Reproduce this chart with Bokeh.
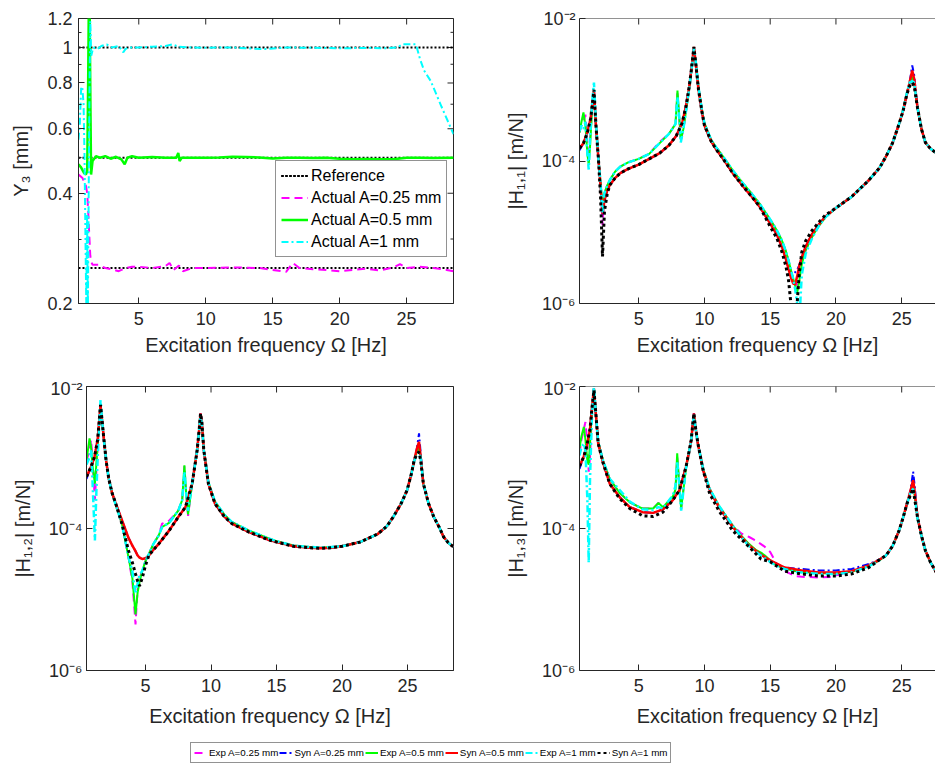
from bokeh.plotting import figure
from bokeh.models import (Range1d, FixedTicker, CustomJSTickFormatter, Legend, LegendItem, Span)
from bokeh.layouts import column, row
from bokeh.embed import file_html
from bokeh.resources import INLINE

# ---------------------------------------------------------------- data
# Top-left: measured amplitude Y3 [mm] versus excitation frequency [Hz]
ref_f = [0.5, 28.5]
ref_levels = [0.25, 0.5, 1.0]

tl_f_m = [0.5, 0.8, 1.05, 1.15, 1.22, 1.3, 1.38, 1.45, 1.55, 2.0, 2.5, 3.0, 3.5, 4.0, 4.5,
          5.0, 6.0, 7.0, 7.3, 7.6, 8.0, 8.3, 9.0, 10.0, 12.0, 14.0, 15.0, 16.0, 16.5, 17.0,
          18.0, 19.0, 20.0, 21.0, 22.0, 23.0, 24.0, 24.5, 25.0, 26.0, 27.0, 28.0, 28.5]
tl_y_m = [0.45, 0.44, 0.42, 0.4, 0.36, 0.31, 0.27, 0.26, 0.255, 0.255, 0.25, 0.248, 0.245, 0.25, 0.252,
          0.252, 0.25, 0.253, 0.258, 0.247, 0.254, 0.245, 0.25, 0.25, 0.251, 0.25, 0.247, 0.244, 0.258, 0.25,
          0.248, 0.247, 0.245, 0.247, 0.249, 0.246, 0.251, 0.256, 0.25, 0.252, 0.25, 0.247, 0.245]

tl_f_g = [0.5, 0.7, 0.9, 1.05, 1.15, 1.22, 1.27, 1.33, 1.39, 1.44, 1.55, 1.8, 2.1, 2.5, 2.9,
          3.3, 3.7, 3.95, 4.15, 4.5, 5.0, 6.0, 7.0, 7.8, 7.95, 8.05, 8.2, 9.0, 10.0, 11.0,
          12.0, 13.0, 14.0, 15.0, 16.0, 17.0, 18.0, 19.0, 20.0, 21.0, 22.0, 23.0, 24.0, 25.0, 26.0,
          27.0, 28.5]
tl_y_g = [0.48, 0.47, 0.455, 0.45, 0.46, 0.8, 1.3, 1.3, 0.7, 0.45, 0.49, 0.505, 0.5, 0.505, 0.497,
          0.503, 0.495, 0.48, 0.5, 0.505, 0.5, 0.502, 0.5, 0.5, 0.515, 0.49, 0.5, 0.5, 0.5, 0.501,
          0.503, 0.502, 0.501, 0.498, 0.5, 0.5, 0.499, 0.5, 0.497, 0.495, 0.496, 0.495, 0.495, 0.5, 0.5,
          0.499, 0.5]

tl_f_c = [0.5, 0.6, 0.7, 0.78, 0.88, 0.95, 1.02, 1.08, 1.14, 1.2, 1.26, 1.32, 1.38, 1.45, 1.6,
          1.9, 2.2, 2.6, 3.0, 3.5, 3.85, 4.0, 4.2, 5.0, 6.0, 7.0, 7.5, 8.0, 9.0, 10.0,
          11.0, 12.0, 13.0, 14.5, 16.0, 18.0, 20.0, 22.0, 23.5, 24.3, 24.7, 25.2, 25.7, 26.0, 26.3,
          26.8, 27.6, 28.5]
tl_y_c = [0.56, 0.62, 0.78, 0.78, 0.7, 0.5, 0.3, 0.2, 0.35, 0.19, 0.4, 0.75, 1.18, 0.95, 1.0,
          0.99, 1.01, 1.02, 1.0, 1.01, 0.97, 0.99, 1.0, 1.0, 1.005, 1.01, 1.02, 1.005, 1.0, 0.998,
          1.0, 1.0, 0.995, 0.99, 1.0, 0.998, 0.995, 0.997, 0.995, 1.0, 1.02, 1.02, 1.02, 0.93, 0.866,
          0.81, 0.69, 0.58]

# Top-right: |H11| [m/N]
tr_f_syn = [0.5, 0.8, 1.1, 1.35, 1.6, 1.75, 1.95, 2.1, 2.25, 2.4,
            2.6, 2.8, 3.2, 3.6, 4.2, 5.0, 5.8, 6.6, 7.3, 7.85,
            8.3, 8.6, 8.85, 9.05, 9.2, 9.35, 9.55, 9.8, 10.0, 10.5,
            10.9, 11.5, 12.15, 13.0, 13.6, 14.2, 15.0, 15.5, 15.9, 16.2,
            16.4, 16.6, 16.75, 16.9, 17.05, 17.2, 17.4, 17.7, 18.2, 18.7,
            19.2, 20.0, 21.2, 22.5, 23.3, 23.8, 24.3, 24.8, 25.1, 25.4,
            25.6, 25.8, 25.95, 26.2, 26.5, 26.8, 27.2, 27.7, 28.0, 28.5]
tr_syn_025 = [1.41e-4, 1.78e-4, 2.51e-4, 3.98e-4, 9.55e-4, 3.16e-4, 1.0e-4, 4.47e-5, 2.0e-5, 2.82e-5,
              3.8e-5, 4.57e-5, 5.75e-5, 6.76e-5, 7.76e-5, 8.91e-5, 1.07e-4, 1.29e-4, 1.66e-4, 2.24e-4,
              3.39e-4, 5.89e-4, 1.12e-3, 2.24e-3, 3.98e-3, 2.24e-3, 1.0e-3, 5.01e-4, 3.16e-4, 1.91e-4,
              1.45e-4, 1.02e-4, 6.76e-5, 4.27e-5, 3.16e-5, 2.29e-5, 1.32e-5, 9.33e-6, 6.17e-6, 4.17e-6,
              3.02e-6, 2.6e-6, 2.6e-6, 2.75e-6, 3.0e-6, 3.4e-6, 4.47e-6, 6.31e-6, 9.55e-6, 1.29e-5,
              1.66e-5, 2.19e-5, 3.16e-5, 5.37e-5, 7.94e-5, 1.15e-4, 1.78e-4, 3.31e-4, 5.01e-4, 8.71e-4,
              1.26e-3, 2.2e-3, 1.6e-3, 5.62e-4, 2.82e-4, 1.82e-4, 1.48e-4, 1.26e-4, 1.15e-4, 1.0e-4]
tr_syn_05 = [1.51e-4, 1.78e-4, 2.51e-4, 3.98e-4, 9.55e-4, 3.16e-4, 1.0e-4, 4.47e-5, 1.82e-5, 2.82e-5,
             3.8e-5, 4.57e-5, 5.75e-5, 6.76e-5, 7.76e-5, 8.91e-5, 1.07e-4, 1.29e-4, 1.66e-4, 2.24e-4,
             3.39e-4, 5.89e-4, 1.12e-3, 2.24e-3, 3.98e-3, 2.24e-3, 1.0e-3, 5.01e-4, 3.16e-4, 1.91e-4,
             1.45e-4, 1.02e-4, 6.76e-5, 4.27e-5, 3.16e-5, 2.29e-5, 1.32e-5, 9.33e-6, 6.17e-6, 4.17e-6,
             3.02e-6, 2.24e-6, 1.91e-6, 1.86e-6, 2.4e-6, 3.31e-6, 4.47e-6, 6.31e-6, 9.55e-6, 1.29e-5,
             1.66e-5, 2.19e-5, 3.16e-5, 5.37e-5, 7.94e-5, 1.15e-4, 1.78e-4, 3.31e-4, 5.01e-4, 8.71e-4,
             1.26e-3, 1.86e-3, 1.41e-3, 5.62e-4, 2.82e-4, 1.82e-4, 1.48e-4, 1.26e-4, 1.15e-4, 1.0e-4]
tr_syn_1 = [1.51e-4, 1.78e-4, 2.51e-4, 3.98e-4, 1.0e-3, 3.16e-4, 1.0e-4, 3.16e-5, 4.57e-6, 2.0e-5,
            3.39e-5, 4.57e-5, 5.75e-5, 6.76e-5, 7.76e-5, 8.91e-5, 1.07e-4, 1.29e-4, 1.66e-4, 2.24e-4,
            3.39e-4, 5.89e-4, 1.12e-3, 2.24e-3, 3.98e-3, 2.24e-3, 1.0e-3, 5.01e-4, 3.16e-4, 1.91e-4,
            1.45e-4, 1.02e-4, 6.76e-5, 4.27e-5, 3.16e-5, 2.29e-5, 1.2e-5, 8.32e-6, 5.25e-6, 3.31e-6,
            2.09e-6, 8.9e-7, 4.0e-7, 5.0e-7, 1.0e-6, 2.51e-6, 5.25e-6, 7.59e-6, 1.07e-5, 1.38e-5,
            1.74e-5, 2.19e-5, 3.16e-5, 5.37e-5, 7.94e-5, 1.15e-4, 1.78e-4, 3.31e-4, 5.01e-4, 8.71e-4,
            1.12e-3, 1.26e-3, 1.12e-3, 5.62e-4, 2.82e-4, 1.82e-4, 1.48e-4, 1.26e-4, 1.15e-4, 1.0e-4]

tr_f_exp = [0.5, 0.65, 0.8, 0.95, 1.1, 1.2, 1.3, 1.45, 1.6, 1.75,
            1.95, 2.1, 2.25, 2.4, 2.6, 2.8, 3.2, 3.6, 4.2, 5.0,
            5.8, 6.6, 7.3, 7.8, 7.95, 8.05, 8.2, 8.4, 8.6, 8.85,
            9.05, 9.2, 9.35, 9.55, 9.8, 10.0, 10.5, 10.9, 11.5, 12.15,
            13.0, 13.6, 14.2, 15.0, 15.5, 15.9, 16.2, 16.4, 16.6, 16.75,
            16.9, 17.05, 17.2, 17.4, 17.7, 18.2, 18.7, 19.2, 20.0, 21.2,
            22.5, 23.3, 23.8, 24.3, 24.8, 25.1, 25.4, 25.6, 25.8, 25.95,
            26.2, 26.5, 26.8, 27.2, 27.7, 28.0, 28.5]
tr_exp_025 = [2.51e-4, 3.16e-4, 3.55e-4, 4.47e-4, 1.78e-4, 1.12e-4, 2.0e-4, 5.01e-4, 1.0e-3, 3.16e-4,
              1.0e-4, 5.01e-5, 1.26e-5, 3.55e-5, 4.47e-5, 5.37e-5, 7.08e-5, 8.32e-5, 9.55e-5, 1.07e-4,
              1.26e-4, 1.86e-4, 2.4e-4, 3.31e-4, 8.91e-4, 5.01e-4, 1.91e-4, 2.82e-4, 5.01e-4, 1.07e-3,
              2.14e-3, 3.8e-3, 2.4e-3, 1.07e-3, 5.37e-4, 3.39e-4, 2.0e-4, 1.55e-4, 1.1e-4, 7.41e-5,
              4.68e-5, 3.47e-5, 2.51e-5, 1.51e-5, 1.07e-5, 7.59e-6, 5.37e-6, 3.98e-6, 2.82e-6, 2.24e-6,
              2.0e-6, 1.78e-6, 2.51e-6, 3.98e-6, 5.62e-6, 8.71e-6, 1.23e-5, 1.62e-5, 2.19e-5, 3.16e-5,
              5.37e-5, 7.94e-5, 1.15e-4, 1.78e-4, 3.31e-4, 5.13e-4, 9.12e-4, 1.26e-3, 1.66e-3, 1.26e-3,
              5.62e-4, 2.82e-4, 1.82e-4, 1.48e-4, 1.26e-4, 1.15e-4, 1.0e-4]
tr_exp_05 = [2.51e-4, 3.55e-4, 4.79e-4, 3.16e-4, 1.26e-4, 8.91e-5, 1.58e-4, 5.01e-4, 9.55e-4, 3.16e-4,
             1.0e-4, 5.01e-5, 2.24e-5, 3.55e-5, 4.47e-5, 5.37e-5, 7.08e-5, 8.32e-5, 9.55e-5, 1.07e-4,
             1.26e-4, 1.78e-4, 2.4e-4, 3.31e-4, 9.77e-4, 5.01e-4, 2.0e-4, 2.82e-4, 5.01e-4, 1.07e-3,
             2.14e-3, 3.8e-3, 2.4e-3, 1.07e-3, 5.37e-4, 3.39e-4, 2.0e-4, 1.55e-4, 1.1e-4, 7.41e-5,
             4.68e-5, 3.47e-5, 2.51e-5, 1.51e-5, 1.07e-5, 7.59e-6, 5.37e-6, 3.98e-6, 2.82e-6, 2.24e-6,
             1.78e-6, 1.41e-6, 2.0e-6, 3.55e-6, 5.62e-6, 8.71e-6, 1.23e-5, 1.62e-5, 2.19e-5, 3.16e-5,
             5.37e-5, 7.94e-5, 1.15e-4, 1.78e-4, 3.31e-4, 5.13e-4, 9.12e-4, 1.26e-3, 1.51e-3, 1.26e-3,
             5.62e-4, 2.82e-4, 1.82e-4, 1.48e-4, 1.26e-4, 1.15e-4, 1.0e-4]
tr_exp_1 = [2.63e-4, 3.16e-4, 2.82e-4, 3.55e-4, 1.26e-4, 7.59e-5, 2.0e-4, 6.31e-4, 1.26e-3, 3.55e-4,
            1.0e-4, 5.01e-5, 1.82e-5, 3.55e-5, 4.47e-5, 5.37e-5, 7.08e-5, 8.32e-5, 9.55e-5, 1.07e-4,
            1.26e-4, 1.78e-4, 2.4e-4, 3.31e-4, 7.94e-4, 5.01e-4, 1.82e-4, 2.82e-4, 5.01e-4, 1.07e-3,
            2.14e-3, 3.8e-3, 2.4e-3, 1.07e-3, 5.37e-4, 3.39e-4, 2.0e-4, 1.55e-4, 1.1e-4, 7.41e-5,
            4.68e-5, 3.47e-5, 2.51e-5, 1.51e-5, 1.07e-5, 7.59e-6, 5.37e-6, 3.98e-6, 2.82e-6, 2.24e-6,
            1.58e-6, 1.0e-6, 5.01e-7, 2.51e-6, 5.01e-6, 8.32e-6, 1.23e-5, 1.62e-5, 2.19e-5, 3.16e-5,
            5.37e-5, 7.94e-5, 1.15e-4, 1.78e-4, 3.31e-4, 5.13e-4, 9.12e-4, 1.26e-3, 1.32e-3, 1.26e-3,
            5.62e-4, 2.82e-4, 1.82e-4, 1.48e-4, 1.26e-4, 1.15e-4, 1.0e-4]

# Bottom-left: |H12| [m/N]
bl_f_syn = [0.5, 0.8, 1.1, 1.35, 1.57, 1.7, 1.83, 2.0, 2.2, 2.45,
            2.7, 3.2, 3.7, 4.0, 4.24, 4.4, 4.55, 4.75, 5.0, 5.26,
            5.6, 6.0, 6.8, 7.5, 8.05, 8.56, 8.94, 9.1, 9.2, 9.3,
            9.45, 9.8, 10.3, 11.0, 11.6, 12.9, 14.4, 15.0, 16.3, 17.5,
            18.35, 19.2, 20.0, 21.4, 22.7, 23.4, 23.9, 24.5, 24.96, 25.3,
            25.5, 25.7, 25.87, 26.0, 26.2, 26.6, 27.0, 27.4, 27.75, 28.1,
            28.5]
bl_syn_025 = [5.01e-4, 7.08e-4, 1.0e-3, 1.78e-3, 5.5e-3, 3.16e-3, 1.78e-3, 8.91e-4, 5.01e-4, 3.16e-4,
              2.34e-4, 1.32e-4, 7.41e-5, 5.75e-5, 4.79e-5, 4.17e-5, 3.89e-5, 3.72e-5, 3.8e-5, 4.17e-5,
              5.01e-5, 6.03e-5, 9.33e-5, 1.45e-4, 2.0e-4, 4.27e-4, 1.26e-3, 2.51e-3, 4.17e-3, 3.16e-3,
              1.26e-3, 4.27e-4, 2.24e-4, 1.48e-4, 1.17e-4, 8.91e-5, 6.92e-5, 6.46e-5, 5.62e-5, 5.37e-5,
              5.25e-5, 5.37e-5, 5.62e-5, 6.46e-5, 8.32e-5, 1.07e-4, 1.45e-4, 2.24e-4, 3.47e-4, 6.03e-4,
              9.12e-4, 1.32e-3, 2.19e-3, 1.12e-3, 4.27e-4, 2.24e-4, 1.45e-4, 1.05e-4, 7.59e-5, 6.31e-5,
              5.5e-5]
bl_syn_05 = [5.37e-4, 7.08e-4, 1.0e-3, 1.78e-3, 5.5e-3, 3.16e-3, 1.78e-3, 8.91e-4, 5.01e-4, 3.16e-4,
             2.34e-4, 1.32e-4, 7.41e-5, 5.75e-5, 4.79e-5, 4.17e-5, 3.89e-5, 3.72e-5, 3.8e-5, 4.17e-5,
             5.01e-5, 6.03e-5, 9.33e-5, 1.45e-4, 2.0e-4, 4.27e-4, 1.26e-3, 2.51e-3, 4.17e-3, 3.16e-3,
             1.26e-3, 4.27e-4, 2.24e-4, 1.48e-4, 1.17e-4, 8.91e-5, 6.92e-5, 6.46e-5, 5.62e-5, 5.37e-5,
             5.25e-5, 5.37e-5, 5.62e-5, 6.46e-5, 8.32e-5, 1.07e-4, 1.45e-4, 2.24e-4, 3.47e-4, 6.03e-4,
             9.12e-4, 1.32e-3, 1.66e-3, 1.0e-3, 4.27e-4, 2.24e-4, 1.45e-4, 1.05e-4, 7.59e-5, 6.31e-5,
             5.5e-5]
bl_syn_1 = [5.37e-4, 7.08e-4, 1.0e-3, 1.78e-3, 5.5e-3, 3.16e-3, 1.78e-3, 8.91e-4, 5.01e-4, 3.16e-4,
            2.34e-4, 1.17e-4, 4.9e-5, 3.31e-5, 2.29e-5, 1.82e-5, 1.55e-5, 2.0e-5, 3.02e-5, 4.17e-5,
            5.01e-5, 6.03e-5, 9.33e-5, 1.45e-4, 2.0e-4, 4.27e-4, 1.26e-3, 2.51e-3, 4.17e-3, 3.16e-3,
            1.26e-3, 4.27e-4, 2.24e-4, 1.48e-4, 1.17e-4, 8.91e-5, 6.92e-5, 6.46e-5, 5.62e-5, 5.37e-5,
            5.25e-5, 5.37e-5, 5.62e-5, 6.46e-5, 8.32e-5, 1.07e-4, 1.45e-4, 2.24e-4, 3.47e-4, 6.03e-4,
            9.12e-4, 1.12e-3, 1.2e-3, 8.91e-4, 4.27e-4, 2.24e-4, 1.45e-4, 1.05e-4, 7.59e-5, 6.31e-5,
            5.5e-5]

bl_f_exp = [0.5, 0.73, 0.85, 0.95, 1.14, 1.25, 1.4, 1.57, 1.7, 1.83,
            2.0, 2.2, 2.45, 2.7, 3.2, 3.7, 4.0, 4.24, 4.4, 4.55,
            4.75, 5.0, 5.26, 5.6, 6.0, 6.27, 6.8, 7.5, 7.8, 7.97,
            8.1, 8.25, 8.56, 8.94, 9.1, 9.2, 9.3, 9.45, 9.8, 10.3,
            11.0, 11.6, 12.9, 14.4, 15.0, 16.3, 17.5, 18.35, 19.2, 20.0,
            21.4, 22.7, 23.4, 23.9, 24.5, 24.96, 25.3, 25.5, 25.7, 25.87,
            26.0, 26.2, 26.6, 27.0, 27.4, 27.75, 28.1, 28.5]
bl_exp_025 = [8.91e-4, 1.26e-3, 1.78e-3, 1.0e-3, 2.51e-4, 6.31e-4, 2.0e-3, 5.01e-3, 3.16e-3, 1.78e-3,
              8.91e-4, 5.01e-4, 3.16e-4, 2.24e-4, 1.17e-4, 3.98e-5, 1.78e-5, 4.47e-6, 1.41e-5, 2.0e-5,
              2.51e-5, 3.47e-5, 4.37e-5, 6.03e-5, 7.94e-5, 1.17e-4, 1.29e-4, 1.78e-4, 2.51e-4, 7.59e-4,
              3.16e-4, 1.51e-4, 4.27e-4, 1.26e-3, 2.51e-3, 3.98e-3, 3.02e-3, 1.26e-3, 4.47e-4, 2.4e-4,
              1.58e-4, 1.23e-4, 9.33e-5, 7.24e-5, 6.61e-5, 5.75e-5, 5.5e-5, 5.37e-5, 5.5e-5, 5.62e-5,
              6.46e-5, 8.32e-5, 1.07e-4, 1.45e-4, 2.24e-4, 3.47e-4, 6.03e-4, 8.91e-4, 1.2e-3, 1.58e-3,
              1.0e-3, 4.27e-4, 2.24e-4, 1.45e-4, 1.05e-4, 7.59e-5, 6.31e-5, 5.5e-5]
bl_exp_05 = [9.12e-4, 1.86e-3, 1.41e-3, 7.94e-4, 4.27e-4, 7.94e-4, 2.0e-3, 5.01e-3, 3.16e-3, 1.78e-3,
             8.91e-4, 5.01e-4, 3.16e-4, 2.24e-4, 1.17e-4, 3.98e-5, 2.0e-5, 6.17e-6, 1.26e-5, 1.78e-5,
             2.51e-5, 3.47e-5, 4.37e-5, 6.03e-5, 7.94e-5, 1.05e-4, 1.2e-4, 1.78e-4, 2.51e-4, 7.76e-4,
             3.16e-4, 1.58e-4, 4.27e-4, 1.26e-3, 2.51e-3, 3.98e-3, 3.02e-3, 1.26e-3, 4.47e-4, 2.4e-4,
             1.58e-4, 1.23e-4, 9.33e-5, 7.24e-5, 6.61e-5, 5.75e-5, 5.5e-5, 5.37e-5, 5.5e-5, 5.62e-5,
             6.46e-5, 8.32e-5, 1.07e-4, 1.45e-4, 2.24e-4, 3.47e-4, 6.03e-4, 8.91e-4, 1.2e-3, 1.41e-3,
             1.0e-3, 4.27e-4, 2.24e-4, 1.45e-4, 1.05e-4, 7.59e-5, 6.31e-5, 5.5e-5]
bl_exp_1 = [7.94e-4, 1.0e-3, 1.26e-3, 5.01e-4, 6.76e-5, 3.16e-4, 1.58e-3, 6.46e-3, 3.16e-3, 1.78e-3,
            8.91e-4, 5.01e-4, 3.16e-4, 2.24e-4, 1.17e-4, 3.98e-5, 2.51e-5, 1.2e-5, 1.66e-5, 2.24e-5,
            2.51e-5, 3.47e-5, 4.37e-5, 6.03e-5, 7.94e-5, 1.05e-4, 1.2e-4, 1.78e-4, 2.51e-4, 6.31e-4,
            3.16e-4, 1.78e-4, 4.27e-4, 1.26e-3, 2.51e-3, 3.98e-3, 3.02e-3, 1.26e-3, 4.47e-4, 2.4e-4,
            1.58e-4, 1.23e-4, 9.33e-5, 7.24e-5, 6.61e-5, 5.75e-5, 5.5e-5, 5.37e-5, 5.5e-5, 5.62e-5,
            6.46e-5, 8.32e-5, 1.07e-4, 1.45e-4, 2.24e-4, 3.47e-4, 6.03e-4, 8.91e-4, 1.12e-3, 1.2e-3,
            1.0e-3, 4.27e-4, 2.24e-4, 1.45e-4, 1.05e-4, 7.59e-5, 6.31e-5, 5.5e-5]

# Bottom-right: |H13| [m/N]
br_f_syn = [0.5, 0.8, 1.04, 1.3, 1.45, 1.6, 1.75, 1.92, 2.3, 2.8,
            3.56, 4.32, 5.3, 6.1, 6.85, 7.6, 8.1, 8.6, 8.85, 9.0,
            9.1, 9.2, 9.3, 9.5, 9.9, 10.4, 11.1, 12.15, 13.4, 14.3,
            15.0, 16.1, 17.4, 18.7, 20.0, 21.2, 22.5, 23.3, 23.8, 24.3,
            24.8, 25.1, 25.4, 25.65, 25.87, 26.0, 26.2, 26.5, 26.8, 27.2,
            27.7, 28.1, 28.5]
br_syn_025 = [6.92e-4, 1.0e-3, 1.41e-3, 2.51e-3, 5.01e-3, 9.33e-3, 3.98e-3, 1.58e-3, 8.32e-4, 4.27e-4,
              2.75e-4, 2.0e-4, 1.7e-4, 1.66e-4, 1.86e-4, 2.51e-4, 3.47e-4, 7.41e-4, 1.26e-3, 1.78e-3,
              2.82e-3, 4.17e-3, 2.82e-3, 1.58e-3, 6.61e-4, 3.47e-4, 2.0e-4, 1.05e-4, 5.75e-5, 4.27e-5,
              3.55e-5, 2.82e-5, 2.69e-5, 2.57e-5, 2.57e-5, 2.69e-5, 3.16e-5, 3.63e-5, 4.17e-5, 5.62e-5,
              9.33e-5, 1.41e-4, 2.24e-4, 3.31e-4, 6.31e-4, 3.8e-4, 1.45e-4, 7.94e-5, 4.9e-5, 3.31e-5,
              2.29e-5, 1.91e-5, 1.66e-5]
br_syn_05 = [7.59e-4, 1.0e-3, 1.41e-3, 2.51e-3, 5.01e-3, 9.33e-3, 3.98e-3, 1.58e-3, 8.32e-4, 4.27e-4,
             2.75e-4, 2.0e-4, 1.7e-4, 1.66e-4, 1.86e-4, 2.51e-4, 3.47e-4, 7.41e-4, 1.26e-3, 1.78e-3,
             2.82e-3, 4.17e-3, 2.82e-3, 1.58e-3, 6.61e-4, 3.47e-4, 2.0e-4, 1.05e-4, 5.75e-5, 4.27e-5,
             3.55e-5, 2.82e-5, 2.57e-5, 2.4e-5, 2.4e-5, 2.51e-5, 3.02e-5, 3.63e-5, 4.17e-5, 5.62e-5,
             9.33e-5, 1.41e-4, 2.24e-4, 3.31e-4, 4.79e-4, 3.16e-4, 1.45e-4, 7.94e-5, 4.9e-5, 3.31e-5,
             2.29e-5, 1.91e-5, 1.66e-5]
br_syn_1 = [7.59e-4, 1.0e-3, 1.41e-3, 2.51e-3, 5.01e-3, 8.91e-3, 3.98e-3, 1.58e-3, 8.32e-4, 4.27e-4,
            2.63e-4, 1.91e-4, 1.51e-4, 1.48e-4, 1.7e-4, 2.51e-4, 3.47e-4, 7.41e-4, 1.26e-3, 1.78e-3,
            2.82e-3, 4.17e-3, 2.82e-3, 1.58e-3, 6.61e-4, 3.09e-4, 1.78e-4, 9.33e-5, 5.5e-5, 3.72e-5,
            3.39e-5, 2.51e-5, 2.29e-5, 2.14e-5, 2.14e-5, 2.29e-5, 2.82e-5, 3.63e-5, 4.17e-5, 5.62e-5,
            9.33e-5, 1.41e-4, 2.24e-4, 2.9e-4, 3.63e-4, 2.51e-4, 1.45e-4, 7.94e-5, 4.9e-5, 3.31e-5,
            2.29e-5, 1.91e-5, 1.66e-5]

br_f_exp = [0.5, 0.65, 0.83, 0.95, 1.1, 1.2, 1.3, 1.45, 1.6, 1.75,
            1.92, 2.3, 2.8, 3.56, 4.32, 5.3, 6.1, 6.5, 6.85, 7.6,
            7.8, 7.93, 8.05, 8.23, 8.6, 8.85, 9.0, 9.1, 9.2, 9.3,
            9.5, 9.9, 10.4, 11.1, 12.15, 12.8, 13.4, 13.9, 14.3, 14.6,
            15.0, 15.5, 16.1, 16.9, 17.4, 18.7, 19.8, 20.0, 21.2, 22.5,
            23.3, 23.8, 24.3, 24.8, 25.1, 25.4, 25.65, 25.87, 26.0, 26.2,
            26.5, 26.8, 27.2, 27.7, 28.1, 28.5]
br_exp_025 = [1.12e-3, 1.78e-3, 2.51e-3, 3.16e-3, 1.58e-3, 6.31e-4, 1.0e-3, 4.47e-3, 8.91e-3, 3.98e-3,
              1.66e-3, 8.91e-4, 5.01e-4, 3.16e-4, 2.34e-4, 1.91e-4, 1.91e-4, 2.29e-4, 2.0e-4, 2.63e-4,
              3.55e-4, 1.0e-3, 5.01e-4, 1.91e-4, 7.08e-4, 1.26e-3, 1.78e-3, 2.75e-3, 3.98e-3, 2.82e-3,
              1.58e-3, 6.92e-4, 3.63e-4, 2.09e-4, 1.1e-4, 8.51e-5, 7.59e-5, 6.76e-5, 6.03e-5, 5.5e-5,
              4.68e-5, 3.16e-5, 2.51e-5, 2.14e-5, 2.09e-5, 2.04e-5, 2.09e-5, 2.19e-5, 2.51e-5, 2.95e-5,
              3.55e-5, 4.17e-5, 5.62e-5, 9.33e-5, 1.41e-4, 2.19e-4, 3.16e-4, 5.01e-4, 2.82e-4, 1.38e-4,
              7.94e-5, 4.9e-5, 3.31e-5, 2.29e-5, 1.91e-5, 1.66e-5]
br_exp_05 = [1.35e-3, 2.0e-3, 2.69e-3, 1.78e-3, 8.91e-4, 7.94e-4, 1.58e-3, 4.47e-3, 8.91e-3, 3.98e-3,
             1.66e-3, 8.91e-4, 5.01e-4, 3.16e-4, 2.34e-4, 1.91e-4, 1.91e-4, 2.29e-4, 2.0e-4, 2.82e-4,
             3.55e-4, 1.15e-3, 5.01e-4, 1.91e-4, 7.08e-4, 1.26e-3, 1.78e-3, 2.75e-3, 3.98e-3, 2.82e-3,
             1.58e-3, 6.92e-4, 3.63e-4, 2.09e-4, 1.1e-4, 7.94e-5, 6.03e-5, 5.01e-5, 4.57e-5, 4.17e-5,
             3.55e-5, 3.02e-5, 2.75e-5, 2.51e-5, 2.45e-5, 2.34e-5, 2.34e-5, 2.34e-5, 2.45e-5, 2.95e-5,
             3.55e-5, 4.17e-5, 5.62e-5, 9.33e-5, 1.41e-4, 2.19e-4, 3.16e-4, 3.8e-4, 2.82e-4, 1.38e-4,
             7.94e-5, 4.9e-5, 3.31e-5, 2.29e-5, 1.91e-5, 1.66e-5]
br_exp_1 = [1.07e-3, 1.41e-3, 1.58e-3, 1.26e-3, 2.51e-4, 3.31e-5, 5.01e-4, 3.98e-3, 1.05e-2, 3.98e-3,
            1.66e-3, 8.91e-4, 5.01e-4, 3.47e-4, 2.4e-4, 1.86e-4, 1.82e-4, 2.0e-4, 1.91e-4, 2.95e-4,
            3.98e-4, 8.91e-4, 5.01e-4, 1.78e-4, 7.08e-4, 1.26e-3, 1.78e-3, 2.75e-3, 3.98e-3, 2.82e-3,
            1.58e-3, 6.92e-4, 3.63e-4, 2.09e-4, 1.1e-4, 7.59e-5, 5.62e-5, 4.68e-5, 4.17e-5, 3.8e-5,
            3.39e-5, 2.95e-5, 2.69e-5, 2.45e-5, 2.4e-5, 2.29e-5, 2.29e-5, 2.29e-5, 2.4e-5, 2.95e-5,
            3.55e-5, 4.17e-5, 5.62e-5, 9.33e-5, 1.41e-4, 2.19e-4, 3.16e-4, 3.63e-4, 2.82e-4, 1.38e-4,
            7.94e-5, 4.9e-5, 3.31e-5, 2.29e-5, 1.91e-5, 1.66e-5]

x_ticks = [5, 10, 15, 20, 25]
frf_ticks = [1e-6, 1e-4, 1e-2]
y3_ticks = [0.2, 0.4, 0.6, 0.8, 1.0, 1.2]
y3_minor = [0.3, 0.5, 0.7, 0.9, 1.1]
legend_labels = ["Exp A=0.25 mm", "Syn A=0.25 mm", "Exp A=0.5 mm",
                 "Syn A=0.5 mm", "Exp A=1 mm", "Syn A=1 mm"]

# ---------------------------------------------------------------- style
FONT = "Liberation Sans"
AXC = "#262626"
XLABEL = "Excitation frequency \u03a9 [Hz]"
SERIES_STYLE = [("#FF00FF", "8 5", 2), ("#0000FF", "7 3 2 3", 2), ("#00FF00", "solid", 2),
                ("#FF0000", "solid", 2.5), ("#00FFFF", "7 3 2 3", 2.5), ("#000000", "3 3", 3)]

SUP_JS = """
const m = {'-':'\u207b','0':'\u2070','1':'\u00b9','2':'\u00b2','3':'\u00b3','4':'\u2074',
           '5':'\u2075','6':'\u2076','7':'\u2077','8':'\u2078','9':'\u2079'};
const e = Math.round(Math.log10(tick));
return '10' + String(e).split('').map(c => m[c]).join('');
"""


def style_axis(ax, label, lab_standoff, axis_standoff):
    ax.axis_label = label
    ax.axis_line_color = AXC
    ax.axis_line_width = 1
    ax.major_tick_line_color = AXC
    ax.minor_tick_line_color = AXC
    ax.major_tick_in = 6
    ax.major_tick_out = 0
    ax.minor_tick_in = 3
    ax.minor_tick_out = 0
    ax.major_label_text_font = FONT
    ax.major_label_text_font_size = "18px"
    ax.major_label_text_color = AXC
    ax.major_label_standoff = lab_standoff
    ax.axis_label_text_font = FONT
    ax.axis_label_text_font_size = "20px"
    ax.axis_label_text_font_style = "normal"
    ax.axis_label_text_color = AXC
    ax.axis_label_standoff = axis_standoff


def base_fig(width, height, mbl, mbr, mbt, mbb, x_end, y_start, y_end, boxed, xl_standoff):
    p = figure(width=width, height=height, x_range=Range1d(0.5, x_end),
               y_range=Range1d(y_start, y_end), y_axis_type="log",
               output_backend="svg", toolbar_location=None,
               min_border_left=mbl, min_border_right=mbr, min_border_top=mbt,
               min_border_bottom=mbb)
    p.grid.visible = False
    p.background_fill_color = "white"
    p.border_fill_color = "white"
    p.xaxis.ticker = FixedTicker(ticks=x_ticks)
    style_axis(p.xaxis[0], XLABEL, 8, xl_standoff)
    # mirrored inward ticks along the top edge
    p.scatter(x=x_ticks, y=[y_end] * len(x_ticks), marker="dash", size=12, angle=1.5708,
              line_color=AXC, line_width=1)
    if boxed:
        p.outline_line_color = AXC
        p.outline_line_width = 1
    else:
        p.outline_line_color = None
        p.add_layout(Span(location=y_end, dimension="width", line_color=AXC, line_width=1))
    return p


def right_ticks(p, x_end, ticks, size):
    p.scatter(x=[x_end] * len(ticks), y=ticks, marker="dash", size=size,
              line_color=AXC, line_width=1)


def frf_panel(width, height, mbl, mbr, mbt, mbb, x_end, ylabel, f_exp, f_syn,
              exp_series, syn_series, boxed, xl_standoff):
    p = base_fig(width, height, mbl, mbr, mbt, mbb, x_end, frf_ticks[0], frf_ticks[-1],
                 boxed, xl_standoff)
    p.yaxis[0].ticker = FixedTicker(ticks=frf_ticks)
    p.yaxis[0].formatter = CustomJSTickFormatter(code=SUP_JS)
    style_axis(p.yaxis[0], ylabel, 4, 12)
    if boxed:
        right_ticks(p, x_end, frf_ticks, 12)
    order = [(f_exp, exp_series[0]), (f_syn, syn_series[0]), (f_exp, exp_series[1]),
             (f_syn, syn_series[1]), (f_exp, exp_series[2]), (f_syn, syn_series[2])]
    for (fx, vals), (color, dash, w) in zip(order, SERIES_STYLE):
        p.line(fx, vals, line_color=color, line_dash=dash, line_width=w)
    return p


# ---------------------------------------------------------------- top-left
p1 = base_fig(466, 378, 78, 13, 18, 75, 28.5, y3_ticks[0], y3_ticks[-1], True, 6)
p1.yaxis[0].ticker = FixedTicker(ticks=y3_ticks, minor_ticks=y3_minor)
p1.yaxis[0].formatter = CustomJSTickFormatter(code="return String(Math.round(tick*10)/10);")
style_axis(p1.yaxis[0], "Y\u2083 [mm]", 6, 12)
right_ticks(p1, 28.5, y3_ticks, 12)
right_ticks(p1, 28.5, y3_minor, 6)

for lvl in ref_levels:
    p1.line(ref_f, [lvl, lvl], line_color="#000000", line_dash="2 2", line_width=2,
            legend_label="Reference")
p1.line(tl_f_m, tl_y_m, line_color="#FF00FF", line_dash="8 5", line_width=2,
        legend_label="Actual A=0.25 mm")
p1.line(tl_f_g, tl_y_g, line_color="#00FF00", line_width=2.5, legend_label="Actual A=0.5 mm")
p1.line(tl_f_c, tl_y_c, line_color="#00FFFF", line_dash="7 3 2 3", line_width=2,
        legend_label="Actual A=1 mm")
lg = p1.legend[0]
lg.location = (197, 46)
lg.label_text_font = FONT
lg.label_text_font_size = "16px"
lg.label_text_color = "#000000"
lg.glyph_width = 27
lg.glyph_height = 19
lg.label_height = 19
lg.label_standoff = 3
lg.spacing = 3
lg.padding = 5
lg.margin = 0
lg.border_line_color = AXC
lg.border_line_width = 1
lg.background_fill_color = "white"
lg.background_fill_alpha = 1

# ---------------------------------------------------------------- FRF panels
X_END_R = 27.57
p2 = frf_panel(469, 378, 113, 0, 18, 75, X_END_R, "|H\u2081,\u2081| [m/N]", tr_f_exp, tr_f_syn,
               [tr_exp_025, tr_exp_05, tr_exp_1], [tr_syn_025, tr_syn_05, tr_syn_1], False, 6)
p3 = frf_panel(466, 354, 86, 13, 8, 62, 28.5, "|H\u2081,\u2082| [m/N]", bl_f_exp, bl_f_syn,
               [bl_exp_025, bl_exp_05, bl_exp_1], [bl_syn_025, bl_syn_05, bl_syn_1], True, 10)
p4 = frf_panel(469, 354, 113, 0, 8, 62, X_END_R, "|H\u2081,\u2083| [m/N]", br_f_exp, br_f_syn,
               [br_exp_025, br_exp_05, br_exp_1], [br_syn_025, br_syn_05, br_syn_1], False, 10)

# ---------------------------------------------------------------- shared legend
# Legend-only strip: the series are drawn again here but lie outside its view.
lf = figure(width=935, height=32, x_range=Range1d(0.5, 28.5), y_range=Range1d(10, 11),
            output_backend="svg", toolbar_location=None, min_border=0,
            x_axis_type=None, y_axis_type=None)
lf.outline_line_color = None
lf.background_fill_color = "white"
lf.border_fill_color = "white"
strip_data = [(tr_f_exp, tr_exp_025), (tr_f_syn, tr_syn_025), (tr_f_exp, tr_exp_05),
              (tr_f_syn, tr_syn_05), (tr_f_exp, tr_exp_1), (tr_f_syn, tr_syn_1)]
items = []
for label, (color, dash, w), (fx, vals) in zip(legend_labels, SERIES_STYLE, strip_data):
    r = lf.line(fx, vals, line_color=color, line_dash=dash, line_width=min(w, 2))
    items.append(LegendItem(label=label, renderers=[r]))
bleg = Legend(items=items, orientation="horizontal", location=(190, 1),
              label_text_font=FONT, label_text_font_size="9.8px", label_text_color="#000000",
              glyph_width=13, glyph_height=13, label_height=13, label_standoff=2,
              spacing=1, padding=3, margin=0, border_line_color=AXC, border_line_width=1,
              background_fill_color="white", background_fill_alpha=1)
lf.add_layout(bleg)

layout = column(row(p1, p2), row(p3, p4), lf)
open("out.html", "w").write(file_html(layout, INLINE))
